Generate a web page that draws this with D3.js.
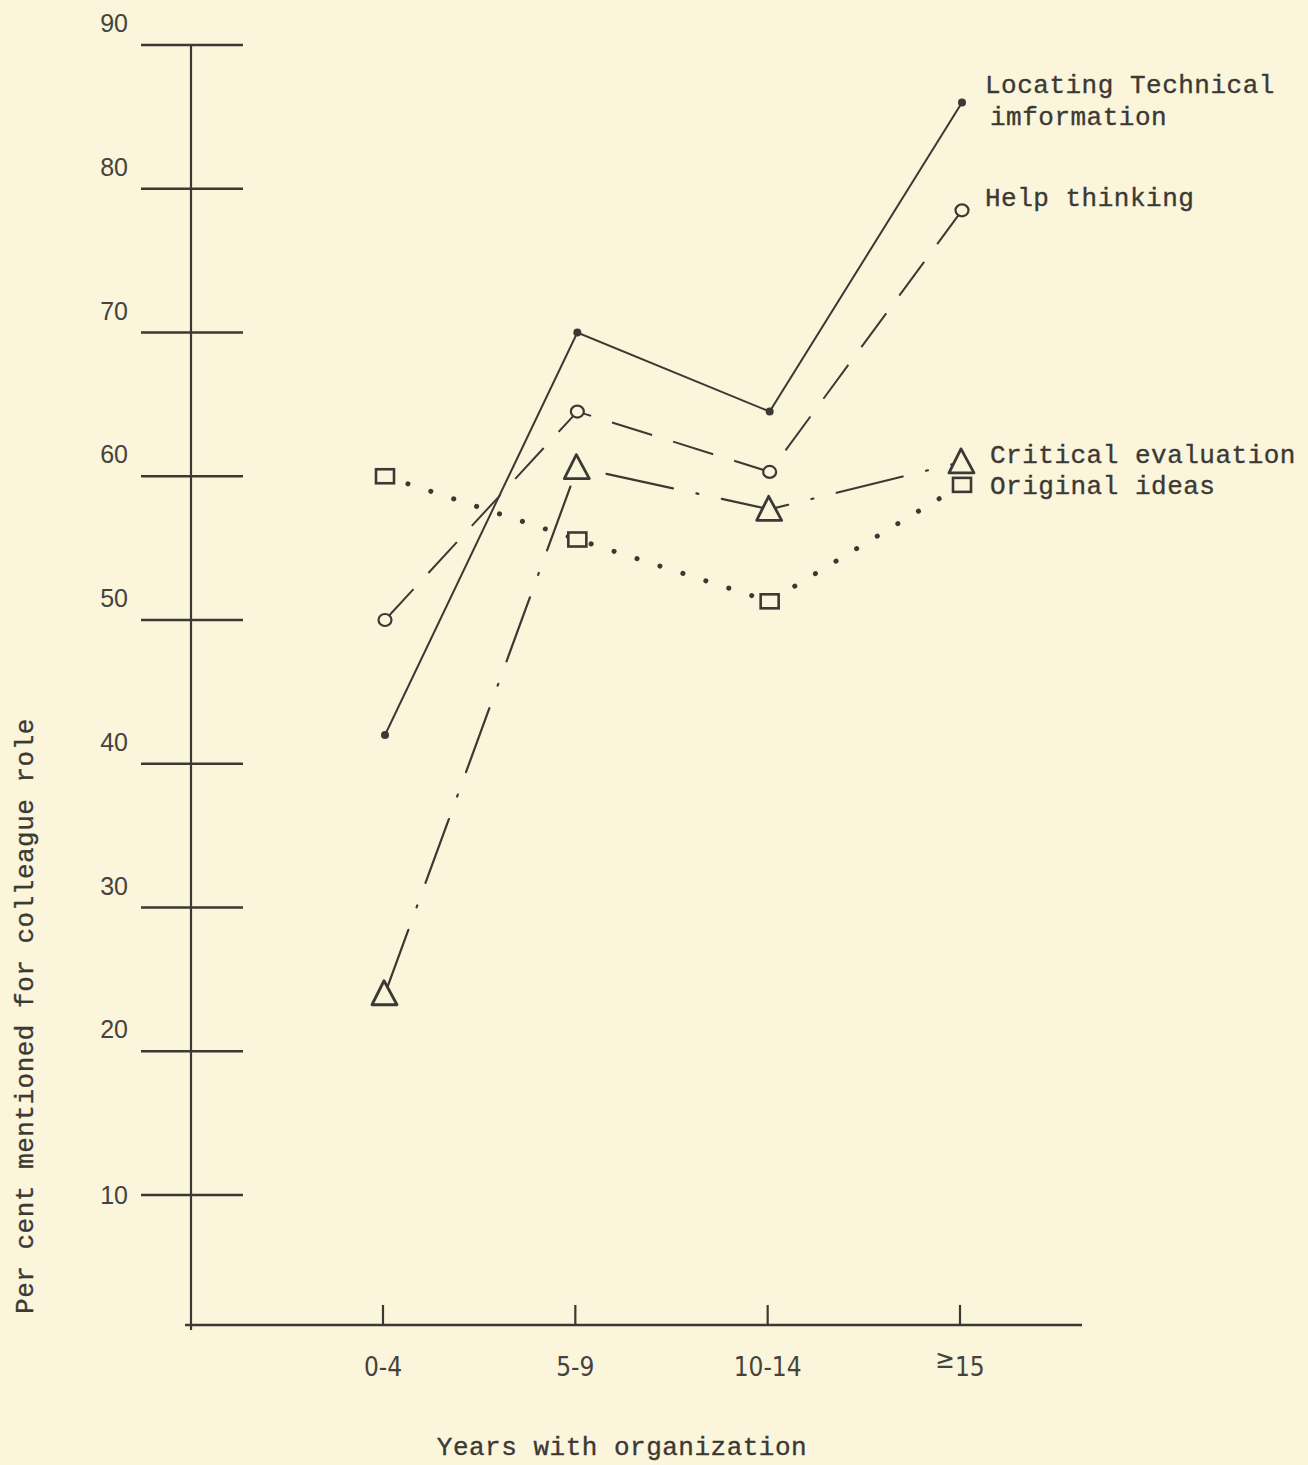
<!DOCTYPE html>
<html>
<head>
<meta charset="utf-8">
<script src="https://cdn.jsdelivr.net/npm/d3@7"></script>
<style>
  html, body { margin: 0; padding: 0; background: #FBF5DC; }
  svg { display: block; }
</style>
</head>
<body>
<svg id="chart" width="1308" height="1465"></svg>
<script>
// ---- data ----
const categories = ["0-4", "5-9", "10-14", "≥15"];
const yTicks = [10, 20, 30, 40, 50, 60, 70, 80, 90];
const locatingValues = [42, 70, 64.5, 86];
const helpValues = [50, 64.5, 60.3, 78.5];
const criticalValues = [24, 60.6, 57.7, 61];
const originalValues = [60, 55.6, 51.3, 59.4];
const seriesNames = ["Locating Technical|imformation", "Help thinking", "Critical evaluation", "Original ideas"];

const ink = "#3b3934";
const svg = d3.select("#chart");
svg.append("rect").attr("width", 1308).attr("height", 1465).attr("fill", "#FBF5DC");

const x = d3.scalePoint().domain(categories).range([385, 962]);
const y = d3.scaleLinear().domain([10, 90]).range([1195, 45]);
const axisX = 191, baseY = 1325;

const mono = "'Liberation Mono', 'Courier New', monospace";
const sans = "'Liberation Sans', Arial, sans-serif";
const narrow = "'Liberation Sans Narrow', 'DejaVu Sans Condensed', 'Liberation Sans', sans-serif";

function typed(sel) {
  return sel.attr("font-family", mono).attr("font-size", 26).attr("letter-spacing", 0.5)
    .attr("fill", ink).attr("stroke", ink).attr("stroke-width", 0.35);
}

// Y axis (custom long crossing ticks)
svg.append("line").attr("x1", axisX).attr("x2", axisX).attr("y1", y(90)).attr("y2", baseY + 5)
  .attr("stroke", ink).attr("stroke-width", 2.2);
const yt = svg.append("g").selectAll("g").data(yTicks).join("g");
yt.append("line")
  .attr("x1", axisX - 50).attr("x2", axisX + 52)
  .attr("y1", d => y(d)).attr("y2", d => y(d))
  .attr("stroke", ink).attr("stroke-width", 2.6);
yt.append("text")
  .attr("x", 128).attr("y", d => y(d) - (d === 10 ? -9 : 13))
  .attr("text-anchor", "end")
  .attr("font-family", sans).attr("font-size", 25).attr("fill", "#45433d")
  .text(d => d);

// X axis
svg.append("line").attr("x1", 185).attr("x2", 1082).attr("y1", baseY).attr("y2", baseY)
  .attr("stroke", ink).attr("stroke-width", 2.4);
const xt = svg.append("g").selectAll("g").data(categories).join("g");
xt.append("line")
  .attr("x1", d => x(d) - 2).attr("x2", d => x(d) - 2)
  .attr("y1", baseY - 20).attr("y2", baseY)
  .attr("stroke", ink).attr("stroke-width", 2.2);
xt.append("text")
  .attr("x", d => x(d) - 2).attr("y", 1376)
  .attr("text-anchor", "middle")
  .attr("font-family", narrow).attr("font-size", 26).attr("fill", "#45433d")
  .each(function(d) {
    const t = d3.select(this);
    if (d.startsWith("≥")) {
      t.append("tspan").attr("dy", -8).text("≥");
      t.append("tspan").attr("dy", 8).text(d.slice(1));
    } else t.text(d);
  });

// Axis titles
typed(svg.append("text"))
  .attr("transform", "translate(33,1016) rotate(-90)")
  .attr("text-anchor", "middle")
  .text("Per cent mentioned for colleague role");
typed(svg.append("text"))
  .attr("x", 622).attr("y", 1455).attr("text-anchor", "middle")
  .text("Years with organization");

// Lines
const line = d3.line().x((d, i) => x(categories[i])).y(d => y(d));
const series = [
  { vals: locatingValues, dash: null, cap: "butt", w: 2 },
  { vals: helpValues, dash: "42,22", cap: "butt", w: 2 },
  { vals: criticalValues, dash: "68,24,2,24", cap: "round", w: 2.2 },
  { vals: originalValues, dash: "0.1,24", cap: "round", w: 5 }
];
series.forEach(s => {
  svg.append("path").datum(s.vals).attr("d", line)
    .attr("fill", "none").attr("stroke", ink).attr("stroke-width", s.w)
    .attr("stroke-linecap", s.cap)
    .attr("stroke-dasharray", s.dash);
});

// Markers
const mk = svg.append("g");
mk.selectAll(".dot").data(locatingValues).join("circle")
  .attr("cx", (d, i) => x(categories[i])).attr("cy", d => y(d)).attr("r", 4)
  .attr("fill", ink);
mk.selectAll(".circ").data(helpValues).join("ellipse")
  .attr("cx", (d, i) => x(categories[i])).attr("cy", d => y(d)).attr("rx", 6.5).attr("ry", 6)
  .attr("fill", "#FBF5DC").attr("stroke", ink).attr("stroke-width", 2.2);
mk.selectAll(".tri").data(criticalValues).join("path")
  .attr("transform", (d, i) => `translate(${x(categories[i])},${y(d)})`)
  .attr("d", "M-13,11 L-1,-13 L12,11 Z")
  .attr("fill", "#FBF5DC").attr("stroke", ink).attr("stroke-width", 2.8).attr("stroke-linejoin", "round");
mk.selectAll(".sq").data(originalValues).join("rect")
  .attr("x", (d, i) => x(categories[i]) - 9).attr("y", d => y(d) - 7)
  .attr("width", 18).attr("height", 14)
  .attr("fill", "#FBF5DC").attr("stroke", ink).attr("stroke-width", 2.6);

// Series labels
const labelPos = [[985, 93], [985, 206], [990, 463], [990, 494]];
seriesNames.forEach((name, i) => {
  const t = typed(svg.append("text"))
    .attr("x", labelPos[i][0]).attr("y", labelPos[i][1]);
  name.split("|").forEach((part, j) => {
    t.append("tspan").attr("x", labelPos[i][0] + (j ? 5 : 0)).attr("dy", j ? 32 : 0).text(part);
  });
});
</script>
</body>
</html>
